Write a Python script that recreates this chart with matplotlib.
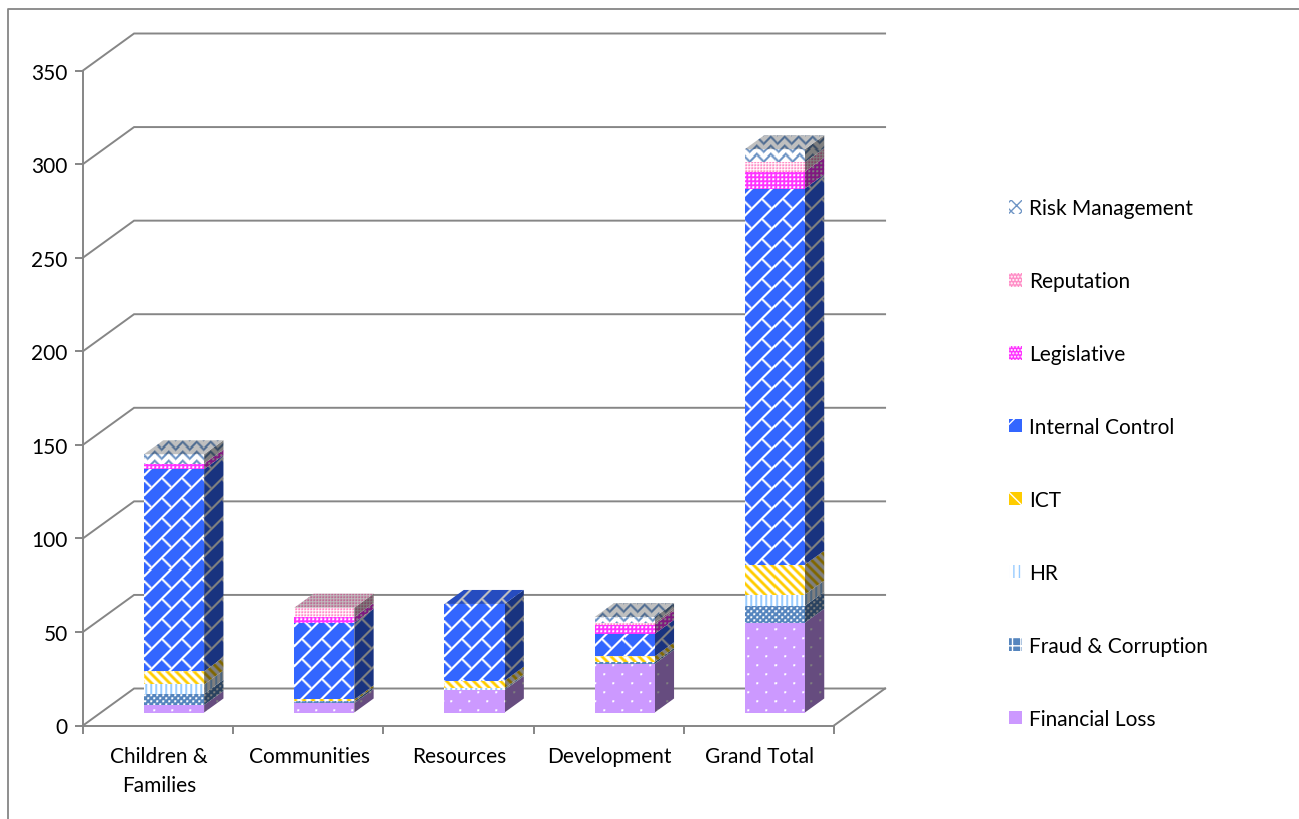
import numpy as np
import matplotlib
matplotlib.use("Agg")
import matplotlib.pyplot as plt
from matplotlib.lines import Line2D
from matplotlib.patches import Patch, Polygon

plt.rcParams['font.family'] = ['Lato', 'DejaVu Sans']

categories = ['Children &\nFamilies', 'Communities', 'Resources', 'Development', 'Grand Total']
y_ticks = [0, 50, 100, 150, 200, 250, 300, 350]

# stacked values
financial_loss = [4, 5, 12, 26, 48]
fraud = [6, 1, 0, 1, 9]
hr = [5, 0, 1, 0, 6]
ict = [7, 1, 4, 3, 16]
internal_control = [108, 41, 41, 12, 201]
legislative = [3, 3, 0, 5, 9]
reputation = [0, 5, 0, 1, 5]
risk_management = [5, 0, 0, 3, 7]

series_names = ['Financial Loss', 'Fraud & Corruption', 'HR', 'ICT', 'Internal Control',
                'Legislative', 'Reputation', 'Risk Management']
series_values = [financial_loss, fraud, hr, ict, internal_control,
                 legislative, reputation, risk_management]

GREY = '#868686'
W, H = 1299, 820

# 3d look: how far the back wall sits from the front plane, in data units
DEPTH_X = 51 / 150
DEPTH_Y = 37 / (655 / 350)
BAR_W = 60 / 150
BAR_D0 = 13 / 37
BAR_D1 = 27 / 37

# background, foreground and legend hatch for every series
styles = {
    'Financial Loss': ('#CC99FF', '#FFFFFF', ''),
    'Fraud & Corruption': ('#5585BE', '#FFFFFF', '++'),
    'HR': ('#FFFFFF', '#99CCFF', '|||'),
    'ICT': ('#FFCC00', '#FFFFFF', '\\\\'),
    'Internal Control': ('#3366FF', '#FFFFFF', '/'),
    'Legislative': ('#FF33FF', '#FFFFFF', '.....'),
    'Reputation': ('#FF8FC7', '#FFFFFF', '.....'),
    'Risk Management': ('#FFFFFF', '#6F95C5', 'xxx'),
}


def pattern_mask(name, xx, yy):
    if name == 'Financial Loss':
        a = (xx % 18 < 2) & (yy % 18 < 2)
        b = ((xx + 9) % 18 < 2) & ((yy + 9) % 18 < 2)
        return a | b
    if name == 'Fraud & Corruption':
        a = (xx % 6 < 2) & (yy % 6 < 2)
        b = ((xx + 3) % 6 < 2) & ((yy + 3) % 6 < 2)
        return a | b
    if name == 'HR':
        return xx % 5 < 2
    if name == 'ICT':
        return (xx - yy) % 9 < 4.5
    if name == 'Internal Control':
        u = xx + yy
        v = xx - yy
        row = np.floor(u / 20)
        return (u % 20 < 2.5) | ((v + 20 * row) % 40 < 2.5)
    if name == 'Legislative':
        return (xx % 4 < 2) & (yy % 4 < 2)
    if name == 'Reputation':
        return (xx % 3 < 1) | (yy % 3 < 1)
    # Risk Management zigzag
    tri = np.abs(xx % 14 - 7)
    return (yy + tri) % 9 < 3


def draw_face(ax, points, name, shade, zorder):
    # fill a polygon with a pixel pattern, clipped to the polygon
    points = np.array(points, dtype=float)
    px = ax.transData.transform(points)
    x0, x1 = np.floor(px[:, 0].min()), np.ceil(px[:, 0].max())
    y0, y1 = np.floor(px[:, 1].min()), np.ceil(px[:, 1].max())
    xx, yy = np.meshgrid(np.arange(x0, x1), H - np.arange(y1 - 1, y0 - 1, -1))
    bg, fg, _ = styles[name]
    rgb = np.zeros(xx.shape + (3,))
    rgb[:] = matplotlib.colors.to_rgb(bg)
    rgb[pattern_mask(name, xx, yy)] = matplotlib.colors.to_rgb(fg)
    # soften it a bit, the reference is blurry
    rgb = (2 * rgb + np.roll(rgb, 1, axis=0) + np.roll(rgb, 1, axis=1)) / 4
    (dx0, dy0), (dx1, dy1) = ax.transData.inverted().transform([(x0, y0), (x1, y1)])
    im = ax.imshow(rgb * shade, extent=[dx0, dx1, dy0, dy1], origin='upper', aspect='auto',
                   interpolation='nearest', zorder=zorder, clip_on=True)
    clip = Polygon(points, transform=ax.transData)
    im.set_clip_path(clip)


fig = plt.figure(figsize=(W / 100, H / 100), dpi=100)
ax = fig.add_axes([83 / W, (H - 726.5) / H, 751 / W, 655 / H])
ax.set_xlim(0, 5)
ax.set_ylim(0, 350)
ax.set_autoscale_on(False)
ax.patch.set_visible(False)

# outer chart border
fig.add_artist(Line2D([8 / W, 8 / W, 1], [0, 1 - 10 / H, 1 - 10 / H], color=GREY, lw=1.3))

for spine in ['top', 'right']:
    ax.spines[spine].set_visible(False)
for spine in ['left', 'bottom']:
    ax.spines[spine].set_color(GREY)
    ax.spines[spine].set_linewidth(1.4)

# walls and floor
for v in y_ticks:
    ax.plot([0, DEPTH_X, 5 + DEPTH_X], [v, v + DEPTH_Y, v + DEPTH_Y], color=GREY, lw=1.4,
            clip_on=False, zorder=1, solid_joinstyle='miter')
ax.plot([5, 5 + DEPTH_X], [0, DEPTH_Y], color=GREY, lw=1.4, clip_on=False, zorder=1)

# stacked bars
for i in range(len(categories)):
    left = i + (1 - BAR_W) / 2 + BAR_D0 * DEPTH_X - 0.013
    right = left + BAR_W
    dx = (BAR_D1 - BAR_D0) * DEPTH_X
    dy = (BAR_D1 - BAR_D0) * DEPTH_Y
    base = BAR_D0 * DEPTH_Y
    last = None
    for name, values in zip(series_names, series_values):
        v = values[i]
        if v == 0:
            continue
        top = base + v
        draw_face(ax, [(right, base), (right + dx, base + dy), (right + dx, top + dy), (right, top)],
                  name, 0.5, 3)
        draw_face(ax, [(left, base), (right, base), (right, top), (left, top)], name, 1.0, 3)
        base = top
        last = name
    draw_face(ax, [(left, base), (right, base), (right + dx, base + dy), (left + dx, base + dy)],
              last, 0.75, 3)

ax.set_yticks(y_ticks)
ax.set_xticks(range(6))
ax.set_xticklabels([])
ax.set_xticks(np.arange(5) + 0.505, labels=categories, minor=True)
ax.tick_params(axis='both', which='major', length=6, width=1.4, color=GREY, labelsize=15)
ax.tick_params(axis='y', pad=5)
ax.tick_params(axis='x', which='minor', length=0, pad=15, labelsize=15)
for t in ax.get_xticklabels(minor=True):
    t.set_linespacing(1.55)

handles = [Patch(facecolor=styles[n][0], edgecolor=styles[n][1], hatch=styles[n][2], lw=0, label=n)
           for n in series_names]
leg = fig.legend(handles[::-1], series_names[::-1], loc='center left',
                 bbox_to_anchor=(1009 / W, (H - 464.5) / H), frameon=False, fontsize=15,
                 handlelength=0.62, handleheight=0.62, handletextpad=0.33, labelspacing=2.54,
                 borderpad=0, borderaxespad=0)

fig.savefig('out.png', dpi=100)
